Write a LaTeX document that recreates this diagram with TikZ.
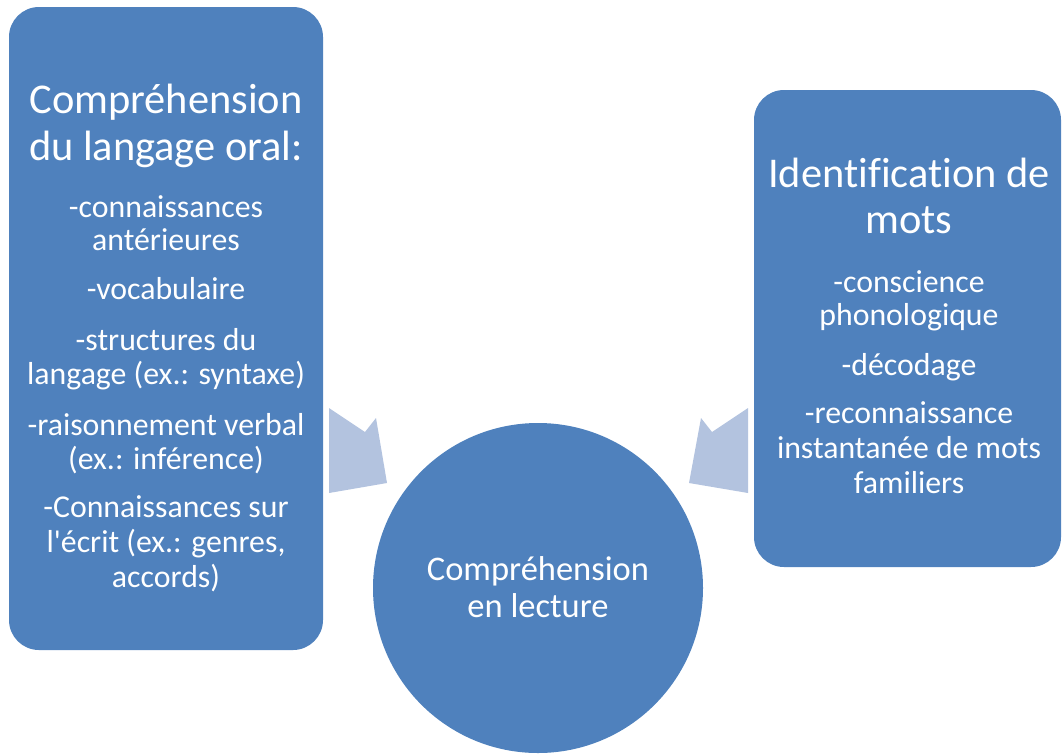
\documentclass[tikz,border=0pt]{standalone}
\usepackage{fontspec}
\newfontfamily\carl{Carlito}[Ligatures=NoCommon]
\definecolor{boxblue}{HTML}{4F81BD}
\definecolor{arrowblue}{HTML}{B3C3DF}
\tikzset{
  panel/.style={fill=boxblue, draw=none, rounded corners=30pt},
  disc/.style={fill=boxblue, draw=none, circle, minimum size=330pt, inner sep=0pt},
  ttl/.style={text=white, inner sep=0pt, anchor=base, font=\carl\fontsize{42.4}{44}\selectfont},
  itm/.style={text=white, inner sep=0pt, anchor=base, font=\carl\fontsize{31.8}{33}\selectfont},
  ctr/.style={text=white, inner sep=0pt, anchor=base, font=\carl\fontsize{34.5}{36}\selectfont},
  chevron/.style={fill=arrowblue, draw=none}
}
\begin{document}
\begin{tikzpicture}[x=1pt,y=-1pt]
\useasboundingbox (0,0) rectangle (1062,753);
% panels
\path[panel] (9,7) rectangle (323,650);
\path[panel] (754,90) rectangle (1061,567);
\node[disc] (c) at (538,588) {};
% arrows
\coordinate (la1) at (329,408);
\coordinate (la2) at (365,432);
\coordinate (la3) at (376,418);
\coordinate (la4) at (387,483);
\coordinate (la5) at (329,493);
\fill[chevron] (la1) -- (la2) -- (la3) -- (la4) -- (la5) -- cycle;
\coordinate (ra1) at (748,408);
\coordinate (ra2) at (712,432);
\coordinate (ra3) at (701,418);
\coordinate (ra4) at (689,483);
\coordinate (ra5) at (748,493);
\fill[chevron] (ra1) -- (ra2) -- (ra3) -- (ra4) -- (ra5) -- cycle;
% left texts
\node[ttl] (lt1) at (166,113) {Compréhension};
\node[ttl] (lt2) at (166,160) {du langage oral:};
\node[itm] (l1) at (166,217) {-connaissances};
\node[itm] (l2) at (166,250) {antérieures};
\node[itm] (l3) at (166,299) {-vocabulaire};
\node[itm] (l4) at (166,350) {-structures du};
\node[itm] (l5) at (166,384) {langage (ex.: syntaxe)};
\node[itm] (l6) at (166,435) {-raisonnement verbal};
\node[itm] (l7) at (166,469) {(ex.: inférence)};
\node[itm] (l8) at (166,517) {-Connaissances sur};
\node[itm] (l9) at (166,552) {l'écrit (ex.: genres,};
\node[itm] (l10) at (166,587) {accords)};
% right texts
\node[ttl] (rt1) at (909,187) {Identification de};
\node[ttl] (rt2) at (909,233) {mots};
\node[itm] (r1) at (909,292) {-conscience};
\node[itm] (r2) at (909,325) {phonologique};
\node[itm] (r3) at (909,375) {-décodage};
\node[itm] (r4) at (909,423) {-reconnaissance};
\node[itm] (r5) at (909,458) {instantanée de mots};
\node[itm] (r6) at (909,493) {familiers};
% centre texts
\node[ctr] (c1) at (538,580) {Compréhension};
\node[ctr] (c2) at (538,617) {en lecture};
\end{tikzpicture}
\end{document}
